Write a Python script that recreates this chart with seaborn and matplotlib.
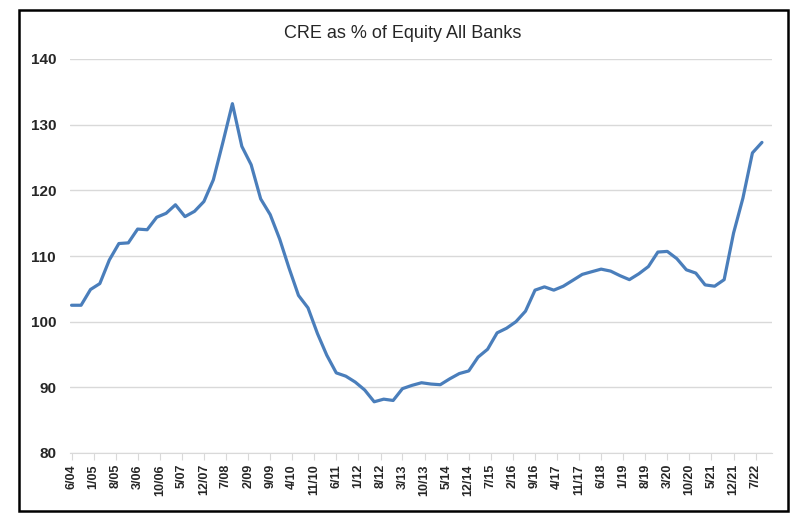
import pandas as pd
import matplotlib
matplotlib.use("Agg")
import matplotlib.pyplot as plt
import seaborn as sns
from matplotlib.patches import Rectangle

# CRE as % of equity, quarterly from 6/04 to 9/22
start_date = "2004-06-01"
cre_pct = [
    102.5, 102.5, 104.9, 105.8, 109.4, 111.9, 112.0, 114.1, 114.0, 115.9,
    116.5, 117.8, 116.0, 116.8, 118.3, 121.6, 127.3, 133.2, 126.7, 123.9,
    118.7, 116.3, 112.6, 108.2, 104.0, 102.1, 98.2, 94.9, 92.2, 91.7,
    90.8, 89.6, 87.8, 88.2, 88.0, 89.8, 90.3, 90.7, 90.5, 90.4,
    91.3, 92.1, 92.5, 94.6, 95.8, 98.3, 99.0, 100.0, 101.6, 104.8,
    105.3, 104.8, 105.4, 106.3, 107.2, 107.6, 108.0, 107.7, 107.0, 106.4,
    107.3, 108.4, 110.6, 110.7, 109.6, 107.9, 107.4, 105.6, 105.4, 106.4,
    113.5, 118.8, 125.7, 127.3,
]
tick_start = "2004-06-01"
tick_end = "2022-07-01"
y_ticks = [80, 90, 100, 110, 120, 130, 140]
title = "CRE as % of Equity All Banks"

df = pd.DataFrame({
    "date": pd.date_range(start_date, periods=len(cre_pct), freq="3MS"),
    "value": cre_pct,
})

sns.set_style("white")
plt.rcParams["font.family"] = ["Liberation Sans", "DejaVu Sans"]

fig = plt.figure(figsize=(8.09, 5.21), dpi=100)
ax = fig.add_axes([70 / 809, 1 - 453 / 521, 702 / 809, 394 / 521])

sns.lineplot(data=df, x="date", y="value", ax=ax, color="#4A7EBB", linewidth=2.3)

ax.set_ylim(80, 140)
ax.set_yticks(y_ticks)
ax.set_xlim(pd.Timestamp("2004-05-17"), pd.Timestamp("2022-12-07"))
ax.grid(axis="y", color="#D9D9D9", linewidth=1)
ax.set_axisbelow(True)

# date axis labelled every 7 months, like the original
ticks = pd.date_range(tick_start, tick_end, freq="7MS")
ax.set_xticks(ticks)
ax.set_xticklabels([f"{d.month}/{d.year % 100:02d}" for d in ticks],
                   rotation=90, fontsize=9, fontweight="bold")
for lab in ax.get_yticklabels():
    lab.set_fontsize(11)
    lab.set_fontweight("bold")

ax.tick_params(axis="x", length=5, color="#D9D9D9", pad=3, bottom=True)
ax.tick_params(axis="y", length=0, pad=10)
for side in ["top", "right", "left"]:
    ax.spines[side].set_visible(False)
ax.spines["bottom"].set_color("#D9D9D9")
ax.set_xlabel("")
ax.set_ylabel("")

fig.text(403 / 809, 1 - 33 / 521, title, ha="center", va="center",
         fontsize=13, family=["Liberation Sans", "DejaVu Sans"])

# black frame round the whole chart
fig.patches.append(Rectangle((19 / 809, 1 - 511 / 521), 769 / 809, 501.5 / 521,
                             transform=fig.transFigure, fill=False,
                             edgecolor="black", linewidth=1.8))

fig.savefig("out.png", dpi=100)
